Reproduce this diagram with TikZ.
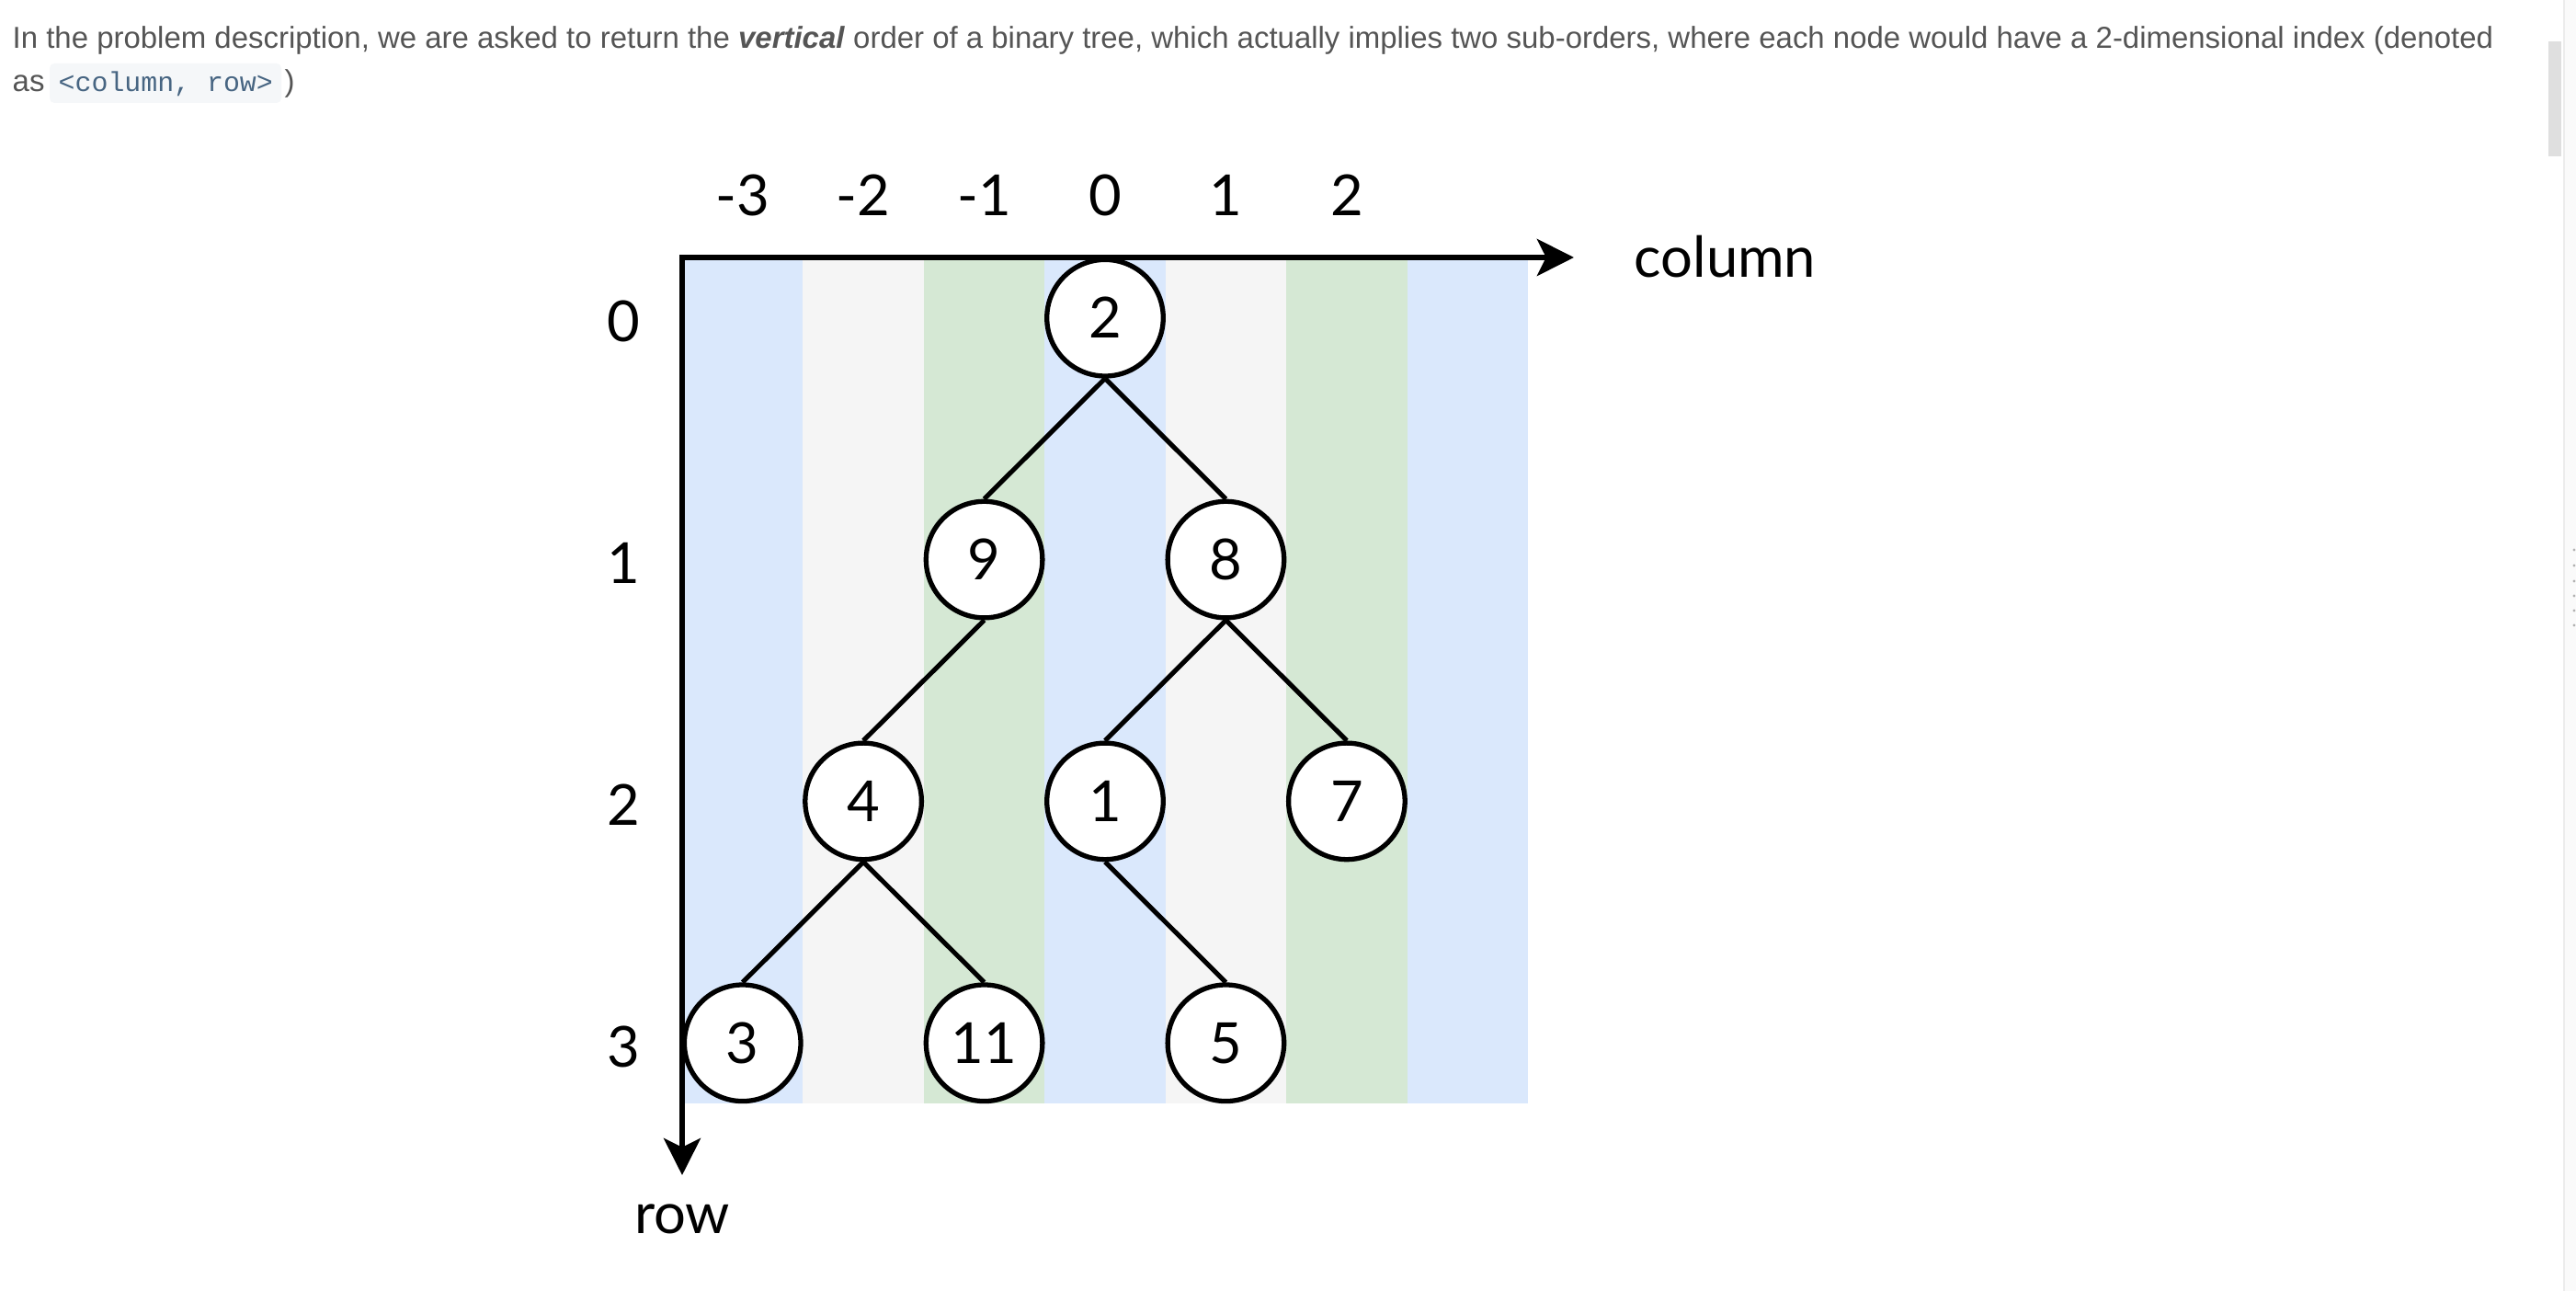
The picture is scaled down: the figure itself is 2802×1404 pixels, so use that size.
\documentclass[tikz,border=0pt]{standalone}
\usepackage{fontspec}
\setmainfont{Liberation Sans}
\newfontfamily\figfont{Lato}
\newfontfamily\codefont{Liberation Mono}
\usetikzlibrary{arrows.meta}
\definecolor{bodytext}{HTML}{555555}
\definecolor{codetext}{HTML}{476582}
\definecolor{codebg}{HTML}{F5F7F9}
\definecolor{stripeblue}{HTML}{DAE8FC}
\definecolor{stripegray}{HTML}{F5F5F5}
\definecolor{stripegreen}{HTML}{D5E8D4}
\definecolor{scrollthumb}{HTML}{DFDFDF}
\definecolor{scrolltrack}{HTML}{FAFAFA}
\definecolor{scrollline}{HTML}{ECECEC}
\begin{document}
\begin{tikzpicture}[x=0.01cm,y=-0.01cm,
  treenode/.style={circle, draw=black, line width=1.5pt, fill=white, minimum size=1.265cm, inner sep=0pt, font=\figfont\fontsize{17.5}{20}\selectfont},
  edge/.style={line width=1.45pt, draw=black},
  axis/.style={line width=1.6pt, {Stealth[length=11.4pt,width=11.4pt,inset=2.8pt]}-{Stealth[length=11.4pt,width=11.4pt,inset=2.8pt]}, line join=miter},
  figlabel/.style={font=\figfont\fontsize{17.5}{20}\selectfont, inner sep=0pt, anchor=base},
  body/.style={font=\fontsize{9.37}{11}\selectfont, text=bodytext, inner sep=0pt, anchor=base west},
]
\useasboundingbox (0,0) rectangle (2802,1404);
\fill[white] (0,0) rectangle (2802,1404);

% scrollbar
\fill[scrolltrack] (2789,0) rectangle (2802,1404);
\draw[scrollline, line width=0.6pt] (2789,0) -- (2789,1404);
\fill[scrollthumb] (2772,45) rectangle (2786,170);
\foreach \yy in {598,615,632,648,664,680} \fill[gray!60] (2800,\yy) circle (1.6);

% text
\node[body] (line1) at (13,53) {In the problem description, we are asked to return the \textbf{\textit{vertical}} order of a binary tree, which actually implies two sub-orders, where each node would have a 2-dimensional index (denoted};
\node[body] (as) at (13,100) {as};
\fill[codebg, rounded corners=1.5pt] (54,69) rectangle (306,112);
\node[body, text=codetext, font=\codefont\fontsize{8.5}{10}\selectfont] (code) at (63,100) {<column, row>};
\node[body] (paren) at (309,100) {)};

% stripes
\foreach \i/\c in {0/stripeblue,1/stripegray,2/stripegreen,3/stripeblue,4/stripegray,5/stripegreen,6/stripeblue}
  \fill[\c] ({742+\i*131.43},280) rectangle ({742+(\i+1)*131.43},1200);

% axes
\coordinate (O) at (742,280);
\coordinate (colend) at (1712,280);
\coordinate (rowend) at (742,1278);
\draw[axis] (colend) -- (O) -- (rowend);
\node[figlabel, anchor=base west] (collabel) at (1777,302) {column};
\node[figlabel] (rowlabel) at (742,1342) {row};

% column indices
\node[figlabel] (cm3) at (807.7,235) {-3};
\node[figlabel] (cm2) at (939.1,235) {-2};
\node[figlabel] (cm1) at (1070.6,235) {-1};
\node[figlabel] (c0) at (1202.0,235) {0};
\node[figlabel] (c1) at (1333.4,235) {1};
\node[figlabel] (c2) at (1464.9,235) {2};

% row indices
\node[figlabel] (r0) at (678,372) {0};
\node[figlabel] (r1) at (678,635) {1};
\node[figlabel] (r2) at (678,898) {2};
\node[figlabel] (r3) at (678,1161) {3};

% tree
\node[treenode] (n2) at (1202.0,345.7) {2};
\node[treenode] (n9) at (1070.6,608.6) {9};
\node[treenode] (n8) at (1333.4,608.6) {8};
\node[treenode] (n4) at (939.1,871.4) {4};
\node[treenode] (n1) at (1202.0,871.4) {1};
\node[treenode] (n7) at (1464.9,871.4) {7};
\node[treenode] (n3) at (807.7,1134.3) {3};
\node[treenode] (n11) at (1070.6,1134.3) {11};
\node[treenode] (n5) at (1333.4,1134.3) {5};

\draw[edge] (n2.south) -- (n9.north);
\draw[edge] (n2.south) -- (n8.north);
\draw[edge] (n9.south) -- (n4.north);
\draw[edge] (n8.south) -- (n1.north);
\draw[edge] (n8.south) -- (n7.north);
\draw[edge] (n4.south) -- (n3.north);
\draw[edge] (n4.south) -- (n11.north);
\draw[edge] (n1.south) -- (n5.north);
\end{tikzpicture}
\end{document}
